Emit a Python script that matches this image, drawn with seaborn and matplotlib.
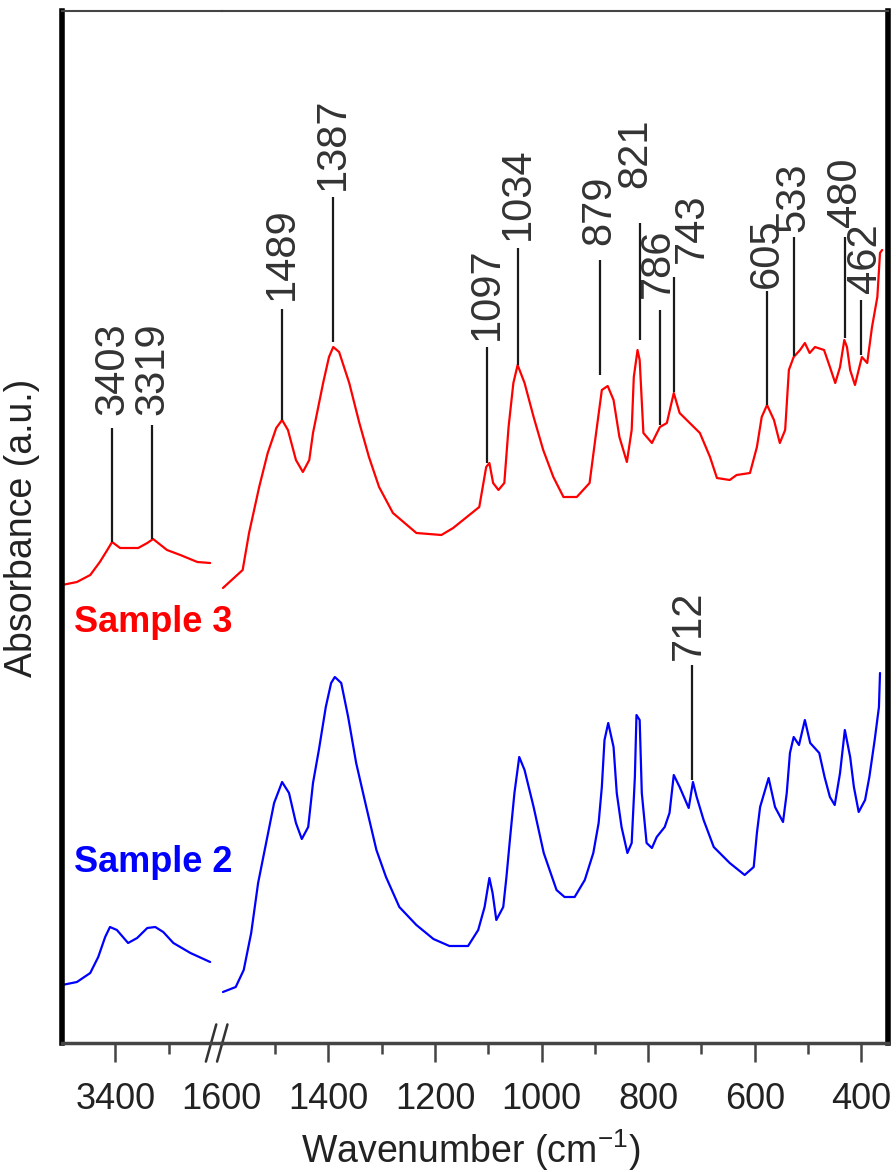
import matplotlib
matplotlib.use("Agg")
import matplotlib.pyplot as plt
import seaborn as sns
import pandas as pd

# ---- data (absorbance in arbitrary units) ----
s3_left_wn = [3500, 3472, 3447, 3429, 3415, 3406, 3391, 3357, 3340, 3329, 3303, 3278, 3246, 3222]
s3_left_abs = [4.58, 4.61, 4.68, 4.81, 4.93, 5.01, 4.95, 4.95, 5.00, 5.04, 4.93, 4.88, 4.81, 4.80]

s3_right_wn = [1598, 1561, 1549, 1530, 1514, 1498, 1487, 1476, 1461, 1448, 1436, 1429, 1410, 1399, 1391,
               1380, 1361, 1342, 1324, 1305, 1279, 1235, 1188, 1166, 1117, 1104, 1098, 1091, 1081, 1070,
               1062, 1053, 1045, 1032, 1015, 997, 978, 959, 934, 910, 897, 887, 876, 865, 854,
               840, 831, 827, 820, 816, 809, 793, 778, 765, 752, 741, 722, 703, 684, 671,
               647, 634, 609, 596, 587, 577, 564, 553, 543, 536, 527, 515, 506, 497, 487,
               470, 459, 449, 440, 432, 427, 421, 412, 399, 389, 380, 370, 365, 361]
s3_right_abs = [4.55, 4.73, 5.10, 5.56, 5.90, 6.15, 6.23, 6.13, 5.83, 5.71, 5.83, 6.10, 6.60, 6.86, 6.96,
                6.91, 6.60, 6.20, 5.86, 5.56, 5.30, 5.10, 5.08, 5.15, 5.36, 5.76, 5.80, 5.60, 5.53, 5.60,
                6.16, 6.60, 6.78, 6.60, 6.26, 5.93, 5.66, 5.46, 5.46, 5.60, 6.13, 6.53, 6.57, 6.43, 6.06,
                5.81, 6.13, 6.66, 6.93, 6.83, 6.10, 6.00, 6.16, 6.20, 6.50, 6.30, 6.20, 6.10, 5.86, 5.65,
                5.63, 5.68, 5.70, 5.96, 6.26, 6.38, 6.23, 6.00, 6.13, 6.73, 6.86, 6.93, 7.00, 6.90, 6.96,
                6.93, 6.76, 6.60, 6.76, 7.03, 6.96, 6.73, 6.58, 6.86, 6.80, 7.16, 7.46, 7.90, 7.93]

s2_left_wn = [3500, 3472, 3447, 3432, 3419, 3410, 3397, 3376, 3359, 3340, 3325, 3310, 3291, 3259, 3222]
s2_left_abs = [0.58, 0.61, 0.70, 0.86, 1.06, 1.16, 1.13, 1.00, 1.05, 1.15, 1.16, 1.11, 1.00, 0.90, 0.81]

s2_right_wn = [1598, 1574, 1559, 1545, 1532, 1517, 1502, 1487, 1474, 1461, 1450, 1438, 1429, 1418, 1405,
               1395, 1388, 1376, 1363, 1348, 1329, 1310, 1292, 1267, 1235, 1203, 1173, 1138, 1119, 1107,
               1098, 1092, 1085, 1072, 1066, 1059, 1051, 1042, 1032, 1015, 996, 972, 957, 938, 919,
               903, 893, 887, 882, 875, 865, 859, 850, 839, 831, 825, 822, 816, 812, 803,
               793, 784, 769, 760, 752, 741, 724, 716, 709, 696, 677, 647, 619, 602, 596,
               590, 574, 562, 547, 540, 534, 527, 517, 506, 496, 479, 469, 459, 450, 440,
               431, 421, 414, 405, 393, 385, 375, 367, 365]
s2_right_abs = [0.51, 0.56, 0.73, 1.10, 1.60, 2.00, 2.40, 2.61, 2.50, 2.20, 2.04, 2.16, 2.60, 2.93, 3.36,
                3.60, 3.66, 3.60, 3.26, 2.80, 2.36, 1.93, 1.66, 1.36, 1.18, 1.04, 0.97, 0.97, 1.13, 1.36,
                1.65, 1.50, 1.23, 1.36, 1.66, 2.06, 2.50, 2.86, 2.73, 2.36, 1.90, 1.53, 1.46, 1.46, 1.63,
                1.90, 2.20, 2.56, 3.03, 3.20, 2.96, 2.50, 2.16, 1.90, 2.00, 2.66, 3.28, 3.23, 2.50, 2.00,
                1.95, 2.06, 2.16, 2.30, 2.68, 2.56, 2.35, 2.61, 2.46, 2.23, 1.96, 1.80, 1.68, 1.76, 2.10,
                2.36, 2.65, 2.36, 2.21, 2.50, 2.90, 3.06, 2.98, 3.23, 3.00, 2.90, 2.66, 2.46, 2.38, 2.70,
                3.13, 2.86, 2.56, 2.31, 2.43, 2.66, 3.03, 3.36, 3.70]

# peak markers: label text, position on the axis, marker line bottom/top, label start
peak_labels = ['3403', '3319', '1489', '1387', '1097', '1034', '879', '821', '786', '743',
               '605', '533', '480', '462', '712']
peak_wn = [3406, 3331, 1487, 1391, 1102, 1045, 891, 816, 777, 752, 577, 527, 431, 401, 718]
peak_low = [5.01, 5.04, 6.23, 7.01, 5.80, 6.78, 6.68, 7.03, 6.18, 6.51, 6.38, 6.87, 7.05, 6.88, 2.63]
peak_high = [6.15, 6.18, 7.34, 8.46, 6.96, 7.95, 7.83, 8.20, 7.33, 7.66, 7.52, 8.06, 8.06, 7.43, 3.78]
label_y = [6.28, 6.28, 7.43, 8.53, 7.03, 8.03, 7.98, 8.55, 7.45, 7.80, 7.55, 8.11, 8.16, 7.50, 3.83]
label_dx = [0, 0, 0, 0, 0, 0, 0, -3, -2, 13, 0, 0, 0, 3, -2]  # points

sample_names = ['Sample 3', 'Sample 2']
sample_colors = ['#ff0000', '#0000ff']
sample_label_y = [4.21, 1.80]

sns.set_style('ticks')
plt.rcParams['font.family'] = ['Liberation Sans', 'DejaVu Sans']
plt.rcParams['mathtext.default'] = 'regular'

fig = plt.figure(figsize=(8.96, 11.72), dpi=100)
gs = fig.add_gridspec(1, 2, width_ratios=[300, 1250], wspace=0,
                      left=62 / 896, right=888 / 896, bottom=1 - 1043 / 1172, top=1 - 11 / 1172)
ax_l = fig.add_subplot(gs[0])
ax_r = fig.add_subplot(gs[1], sharey=ax_l)
ax_r.patch.set_visible(False)

left_df = pd.concat([
    pd.DataFrame({'wn': s3_left_wn, 'abs': s3_left_abs, 'sample': 'Sample 3'}),
    pd.DataFrame({'wn': s2_left_wn, 'abs': s2_left_abs, 'sample': 'Sample 2'}),
])
right_df = pd.concat([
    pd.DataFrame({'wn': s3_right_wn, 'abs': s3_right_abs, 'sample': 'Sample 3'}),
    pd.DataFrame({'wn': s2_right_wn, 'abs': s2_right_abs, 'sample': 'Sample 2'}),
])
pal = dict(zip(sample_names, sample_colors))
sns.lineplot(data=left_df, x='wn', y='abs', hue='sample', palette=pal, estimator=None,
             linewidth=1.6, legend=False, ax=ax_l)
sns.lineplot(data=right_df, x='wn', y='abs', hue='sample', palette=pal, estimator=None,
             linewidth=1.6, legend=False, ax=ax_r)

ax_l.set_xlim(3500, 3200)
ax_r.set_xlim(1600, 350)
ax_l.set_ylim(0, 10.32)

# peak marker lines and labels
for lab, wn, lo, hi, ly, dx in zip(peak_labels, peak_wn, peak_low, peak_high, label_y, label_dx):
    ax = ax_l if wn > 2000 else ax_r
    ax.plot([wn, wn], [lo, hi], color='#1a1a1a', lw=1.6, solid_capstyle='butt')
    ax.annotate(lab, xy=(wn, ly), xytext=(dx, 0), textcoords='offset points',
                rotation=90, ha='center', va='bottom', fontsize=30, color='#333333')

for name, col, y in zip(sample_names, sample_colors, sample_label_y):
    ax_l.text(3477, y, name, color=col, fontsize=26, fontweight='bold', va='center', ha='left')

# axes styling
for ax in (ax_l, ax_r):
    ax.set_yticks([])
    ax.set_xlabel('')
    ax.set_ylabel('')
    ax.spines['top'].set_linewidth(1.5)
    ax.spines['top'].set_color('#444444')
    ax.spines['bottom'].set_linewidth(2.5)
    ax.spines['bottom'].set_color('#444444')
    ax.tick_params(axis='x', which='major', length=14, width=1.8, color='#444444',
                   labelsize=26, pad=14, labelcolor='#222222')
    ax.tick_params(axis='x', which='minor', length=8, width=1.8, color='#444444')
    ax.tick_params(axis='y', left=False, right=False)

ax_l.spines['right'].set_visible(False)
ax_l.spines['left'].set_linewidth(4)
ax_l.spines['left'].set_color('black')
ax_r.spines['left'].set_visible(False)
ax_r.spines['right'].set_linewidth(4)
ax_r.spines['right'].set_color('black')

ax_l.set_xticks([3400])
ax_l.set_xticks([3300], minor=True)
ax_r.set_xticks([1600, 1400, 1200, 1000, 800, 600, 400])
ax_r.set_xticks([1500, 1300, 1100, 900, 700, 500], minor=True)
ax_r.xaxis.get_major_ticks()[0].tick1line.set_visible(False)

# axis break marks
for x0 in (0.90, 0.97):
    ax_l.plot([x0, x0 + 0.065], [-0.018, 0.018], transform=ax_l.transAxes,
              color='#333333', lw=1.8, clip_on=False)

fig.text(0.525, 1 - 1150 / 1172, 'Wavenumber (cm$^{-1}$)', ha='center', va='center',
         fontsize=27, color='#222222')
fig.text(22 / 896, 1 - 528 / 1172, 'Absorbance (a.u.)', rotation=90, ha='center', va='center',
         fontsize=27, color='#222222')

fig.savefig('out.png', dpi=100)
